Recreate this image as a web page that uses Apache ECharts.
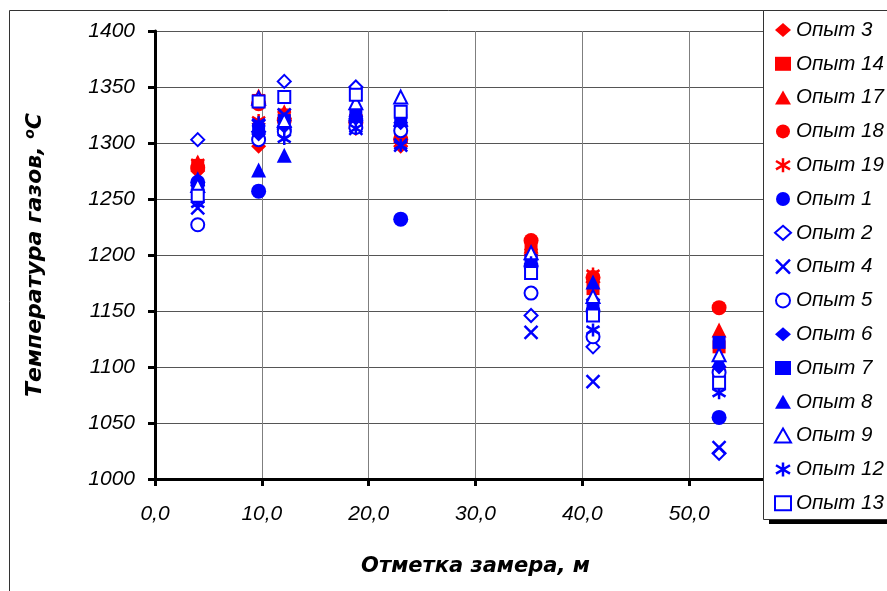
<!DOCTYPE html>
<html>
<head>
<meta charset="utf-8">
<script src="https://cdn.jsdelivr.net/npm/echarts@6/dist/echarts.min.js"></script>
<style>
  html, body { margin: 0; padding: 0; background: #fff; }
  #chart { width: 887px; height: 591px; }
</style>
</head>
<body>
<div id="chart"></div>
<script>
// отметки замера, м
var xPositions = [4.0, 9.7, 12.1, 18.8, 23.0, 35.2, 41.0, 52.8]

// температура газов по опытам
var opyt3  = [1275, 1297, 1322, 1313, 1297, 1200, 1176, 1100]
var opyt14 = [1280, 1338, 1325, 1320, 1305, 1205, 1170, 1118]
var opyt17 = [1283, 1342, 1328, 1325, 1310, 1208, 1182, 1133]
var opyt18 = [1278, 1335, 1320, 1318, 1303, 1213, 1180, 1153]
var opyt19 = [1282, 1320, 1325, 1322, 1300, 1202, 1183, 1095]
var opyt1  = [1265, 1257, 1312, 1320, 1232, 1190, 1150, 1055]
var opyt2  = [1303, 1310, 1355, 1350, 1315, 1146, 1118, 1023]
var opyt4  = [1242, 1315, 1325, 1313, 1298, 1131, 1087, 1028]
var opyt5  = [1227, 1303, 1310, 1314, 1311, 1166, 1127, 1095]
var opyt6  = [1262, 1308, 1315, 1322, 1318, 1192, 1160, 1100]
var opyt7  = [1260, 1312, 1320, 1326, 1320, 1195, 1155, 1122]
var opyt8  = [1268, 1276, 1289, 1330, 1322, 1197, 1176, 1106]
var opyt9  = [1262, 1340, 1320, 1336, 1341, 1202, 1163, 1111]
var opyt12 = [1246, 1318, 1304, 1313, 1298, 1193, 1133, 1077]
var opyt13 = [1253, 1337, 1341, 1343, 1328, 1184, 1146, 1086]

var RED = '#ff0000'
var BLUE = '#0000ff'
var FONT = '"Liberation Sans", Arial, sans-serif'
var NAME_FONT = '"DejaVu Sans", "Liberation Sans", sans-serif'

var X_PATH = 'path://M0,0 L10,10 M10,0 L0,10'
var STAR_PATH = 'path://M5,0 L5,10 M0,2 L10,8 M0,8 L10,2'

function pts(vals) {
    return vals.map(function (v, i) { return [xPositions[i], v] })
}

// имя, данные, маркер, цвет, вид (fill / open / line)
var defs = [
    ['Опыт 3', opyt3, 'diamond', RED, 'fill'],
    ['Опыт 14', opyt14, 'rect', RED, 'fill'],
    ['Опыт 17', opyt17, 'triangle', RED, 'fill'],
    ['Опыт 18', opyt18, 'circle', RED, 'fill'],
    ['Опыт 19', opyt19, STAR_PATH, RED, 'line'],
    ['Опыт 1', opyt1, 'circle', BLUE, 'fill'],
    ['Опыт 2', opyt2, 'diamond', BLUE, 'open'],
    ['Опыт 4', opyt4, X_PATH, BLUE, 'line'],
    ['Опыт 5', opyt5, 'circle', BLUE, 'open'],
    ['Опыт 6', opyt6, 'diamond', BLUE, 'fill'],
    ['Опыт 7', opyt7, 'rect', BLUE, 'fill'],
    ['Опыт 8', opyt8, 'triangle', BLUE, 'fill'],
    ['Опыт 9', opyt9, 'triangle', BLUE, 'open'],
    ['Опыт 12', opyt12, STAR_PATH, BLUE, 'line'],
    ['Опыт 13', opyt13, 'rect', BLUE, 'open']
]

function styleFor(color, kind) {
    if (kind === 'fill') return { color: color, borderWidth: 0, opacity: 1 }
    if (kind === 'open') return { color: '#fff', borderColor: color, borderWidth: 2, opacity: 1 }
    return { color: 'rgba(0,0,0,0)', borderColor: color, borderWidth: 2.5, opacity: 1 }
}

var series = defs.map(function (d) {
    var size = 15
    if (d[4] === 'open') size = 13
    if (d[2] === 'rect') size = d[4] === 'open' ? 12 : 13
    if (d[4] === 'line') size = 13
    return {
        name: d[0],
        type: 'scatter',
        data: pts(d[1]),
        symbol: d[2],
        symbolSize: size,
        itemStyle: styleFor(d[3], d[4]),
        emphasis: { disabled: true },
        animation: false
    }
})

var legendData = defs.map(function (d) {
    return { name: d[0], icon: d[2], itemStyle: styleFor(d[3], d[4]) }
})

var chart = echarts.init(document.getElementById('chart'))
chart.setOption({
    backgroundColor: '#fff',
    animation: false,
    grid: { left: 155, top: 31, right: 91, bottom: 112 },
    xAxis: {
        type: 'value',
        min: 0,
        max: 60,
        interval: 10,
        name: 'Отметка замера, м',
        nameLocation: 'middle',
        nameGap: 77,
        nameTextStyle: { fontFamily: NAME_FONT, fontSize: 21, fontWeight: 'bold', fontStyle: 'italic', color: '#000' },
        axisLine: { onZero: false, lineStyle: { color: '#000', width: 3 } },
        axisTick: { inside: false, length: 7, lineStyle: { color: '#000', width: 3 } },
        axisLabel: {
            margin: 25,
            fontFamily: FONT, fontSize: 21, fontStyle: 'italic', color: '#000',
            formatter: function (v) { return v.toFixed(1).replace('.', ',') }
        },
        splitLine: { show: true, lineStyle: { color: '#7f7f7f', width: 1 } }
    },
    yAxis: {
        type: 'value',
        min: 1000,
        max: 1400,
        interval: 50,
        name: 'Температура газов, {sup|o}C',
        nameLocation: 'middle',
        nameRotate: 90,
        nameGap: 108,
        nameTextStyle: {
            fontFamily: NAME_FONT, fontSize: 22, fontWeight: 'bold', fontStyle: 'italic', color: '#000',
            rich: {
                sup: { fontFamily: NAME_FONT, fontSize: 14, fontWeight: 'bold', fontStyle: 'italic', color: '#000', verticalAlign: 'top', padding: [0, 0, 10, 0] }
            }
        },
        axisLine: { show: true, lineStyle: { color: '#000', width: 3 } },
        axisTick: { inside: false, length: 7, lineStyle: { color: '#000', width: 3 } },
        axisLabel: {
            margin: 20, fontFamily: FONT, fontSize: 21, fontStyle: 'italic', color: '#000',
            formatter: function (v) { return String(v) }
        },
        splitLine: { show: true, lineStyle: { color: '#555', width: 1 } }
    },
    legend: {
        orient: 'vertical',
        left: 769,
        top: 15,
        itemWidth: 16,
        itemHeight: 14,
        itemGap: 13.8,
        selectedMode: false,
        z: 10,
        textStyle: { fontFamily: FONT, fontSize: 20.5, fontStyle: 'italic', color: '#000', lineHeight: 20 },
        data: legendData
    },
    graphic: [
        { type: 'rect', z: 0, silent: true, shape: { x: 9.5, y: 10.5, width: 900, height: 600 }, style: { fill: 'none', stroke: '#333', lineWidth: 1 } },
        { type: 'rect', z: 8, silent: true, shape: { x: 769, y: 15, width: 140, height: 509 }, style: { fill: '#000' } },
        { type: 'rect', z: 9, silent: true, shape: { x: 763.5, y: 10.5, width: 140, height: 509 }, style: { fill: '#fff', stroke: '#333', lineWidth: 1 } }
    ],
    series: series
})
</script>
</body>
</html>
